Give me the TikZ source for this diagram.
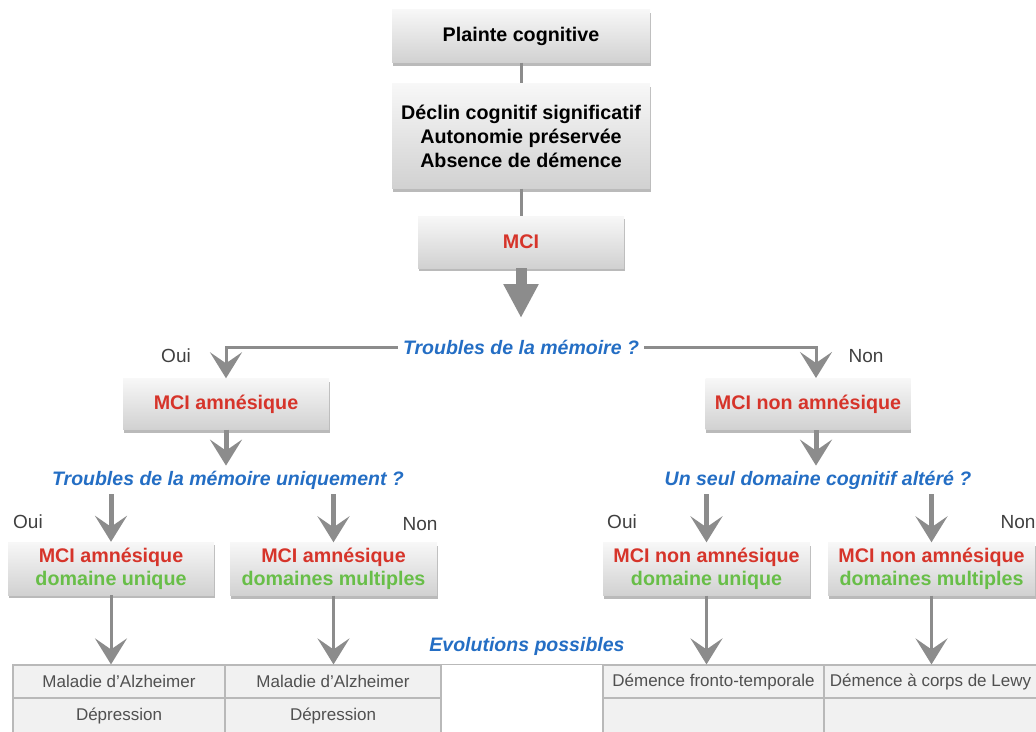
\documentclass[tikz,border=0pt]{standalone}
\usepackage{fontspec}
\setmainfont{Liberation Sans}
\usetikzlibrary{arrows.meta,shadows}
\definecolor{mred}{RGB}{214,52,42}
\definecolor{mgreen}{RGB}{104,190,72}
\definecolor{mblue}{RGB}{36,110,196}
\definecolor{agray}{RGB}{140,140,140}
\definecolor{tline}{RGB}{185,185,185}
\definecolor{tfill}{RGB}{241,241,241}
\definecolor{ttext}{RGB}{80,80,80}
\begin{document}
\begin{tikzpicture}[x=1pt,y=-1pt,
  box/.style={rectangle, top color=white!97!black, bottom color=white!82!black, draw=none,
    drop shadow={shadow xshift=0.5pt, shadow yshift=-3pt, opacity=0.45, fill=black!60},
    font=\fontsize{19.7}{24}\selectfont\bfseries, align=center, inner sep=0pt},
  boxb/.style={box, font=\fontsize{19.7}{23}\selectfont\bfseries, minimum width=206pt, minimum height=53pt, text=mred},
  qtext/.style={text=mblue, font=\fontsize{19.5}{23}\selectfont\bfseries\itshape, inner sep=5pt},
  lbl/.style={text=black!75, font=\fontsize{19}{22}\selectfont, inner sep=0pt},
  conn/.style={draw=agray, line width=3pt},
  chev/.style={-{Stealth[length=26pt,width=32pt,inset=11pt]}},
  garrow/.style={draw=agray, line width=5pt, chev},
  hconn/.style={draw=agray, line width=3pt, chev},
  larrow/.style={draw=agray, line width=3pt, chev},
  bigarrow/.style={draw=agray, line width=11pt, -{Triangle[length=34pt,width=33pt]}},
  cell/.style={rectangle, draw=tline, fill=tfill, line width=1.2pt, minimum height=33pt,
    text=ttext, font=\fontsize{17}{20}\selectfont, inner sep=0pt},
]
\useasboundingbox (0,0) rectangle (1036,731);

% top chain
\node[box, minimum width=258pt, minimum height=53pt] (plainte) at (521,36) {Plainte cognitive};
\node[box, minimum width=258pt, minimum height=105pt] (declin) at (521,136) {Déclin cognitif significatif\\Autonomie préservée\\Absence de démence};
\node[box, minimum width=206pt, minimum height=52pt, text=mred] (mci) at (521,242) {MCI};
\draw[conn] (plainte) -- (declin);
\draw[conn] (declin) -- (mci);

\node[qtext] (q1) at (521,347) {Troubles de la mémoire ?};
\coordinate (bigtip) at (521,318);
\draw[bigarrow] (mci.south) -- (bigtip);

% level 2
\node[box, minimum width=206pt, minimum height=51pt, text=mred] (amn) at (226,404) {MCI amnésique};
\node[box, minimum width=205pt, minimum height=51pt, text=mred] (namn) at (808,404) {MCI non amnésique};
\coordinate (rtop) at (816,378);
\draw[hconn] (q1.west) -| (amn.north);
\draw[hconn] (q1.east) -| (rtop);
\node[lbl] (oui1) at (176,356) {Oui};
\node[lbl] (non1) at (866,356) {Non};

\node[qtext] (q2) at (228,480) {Troubles de la mémoire uniquement ?};
\node[qtext] (q3) at (818,480) {Un seul domaine cognitif altéré ?};
\coordinate (rbot) at (816,430);
\draw[garrow] (amn.south) -- (amn.south |- q2.north);
\draw[garrow] (rbot) -- (rbot |- q3.north);

% level 3
\node[boxb] (A) at (111,568.5) {MCI amnésique\\\textcolor{mgreen}{domaine unique}};
\node[boxb, minimum width=207pt] (B) at (333.5,569) {MCI amnésique\\\textcolor{mgreen}{domaines multiples}};
\node[boxb, minimum width=207pt] (C) at (706.5,569) {MCI non amnésique\\\textcolor{mgreen}{domaine unique}};
\node[boxb, minimum width=207pt] (D) at (931.5,569) {MCI non amnésique\\\textcolor{mgreen}{domaines multiples}};
\draw[garrow] (A.north |- q2.south) -- (A.north);
\draw[garrow] (B.north |- q2.south) -- (B.north);
\draw[garrow] (C.north |- q3.south) -- (C.north);
\draw[garrow] (D.north |- q3.south) -- (D.north);
\node[lbl] (oui2) at (28,522) {Oui};
\node[lbl] (non2) at (420,524) {Non};
\node[lbl] (oui3) at (622,522) {Oui};
\node[lbl] (non3) at (1018,522) {Non};

\node[qtext] (evo) at (527,646) {Evolutions possibles};

% table
\node[cell, minimum width=212pt] (c11) at (119,681.5) {Maladie d’Alzheimer};
\node[cell, minimum width=216pt] (c12) at (333,681.5) {Maladie d’Alzheimer};
\node[cell, minimum width=212pt, minimum height=35pt] (c21) at (119,715.5) {Dépression};
\node[cell, minimum width=216pt, minimum height=35pt] (c22) at (333,715.5) {Dépression};
\node[cell, minimum width=221pt] (c13) at (713.5,681.5) {Démence fronto-temporale};
\node[cell, minimum width=213pt] (c14) at (930.5,681.5) {Démence à corps de Lewy};
\node[cell, minimum width=221pt, minimum height=35pt] (c23) at (713.5,715.5) {};
\node[cell, minimum width=213pt, minimum height=35pt] (c24) at (930.5,715.5) {};
\draw[draw=tline, line width=1.5pt] (c11.north west) -- (c14.north east);

\draw[larrow] (A.south) -- (A.south |- c11.north);
\draw[larrow] (B.south) -- (B.south |- c12.north);
\draw[larrow] (C.south) -- (C.south |- c13.north);
\draw[larrow] (D.south) -- (D.south |- c14.north);
\end{tikzpicture}
\end{document}
